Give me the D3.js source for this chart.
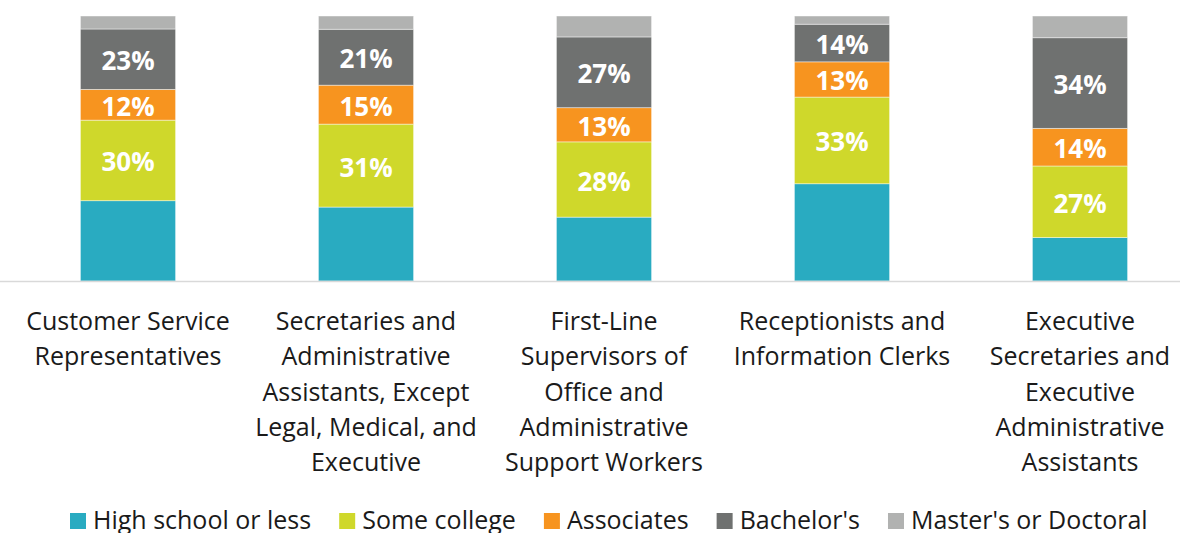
<!DOCTYPE html>
<html>
<head>
<meta charset="utf-8">
<script src="https://cdn.jsdelivr.net/npm/d3@7/dist/d3.min.js"></script>
<style>
  html, body { margin: 0; padding: 0; background: #fff; }
  svg { display: block; }
  text { font-family: "Open Sans", "Noto Sans", sans-serif; }
</style>
</head>
<body>
<svg id="chart" width="1180" height="533"></svg>
<script>
// ---- data ----
const categories = [
  "Customer Service Representatives",
  "Secretaries and Administrative Assistants, Except Legal, Medical, and Executive",
  "First-Line Supervisors of Office and Administrative Support Workers",
  "Receptionists and Information Clerks",
  "Executive Secretaries and Executive Administrative Assistants"
];
const categoryLines = [
  ["Customer Service", "Representatives"],
  ["Secretaries and", "Administrative", "Assistants, Except", "Legal, Medical, and", "Executive"],
  ["First-Line", "Supervisors of", "Office and", "Administrative", "Support Workers"],
  ["Receptionists and", "Information Clerks"],
  ["Executive", "Secretaries and", "Executive", "Administrative", "Assistants"]
];
const seriesNames = ["High school or less", "Some college", "Associates", "Bachelor's", "Master's or Doctoral"];
const highSchool = [30.3, 27.9, 24.1, 36.7, 16.4];
const someCollege = [30.4, 31.3, 28.4, 32.7, 27.0];
const associates = [11.6, 14.7, 12.9, 13.3, 14.2];
const bachelors = [22.8, 21.1, 26.7, 14.2, 34.2];
const masters = [4.9, 5.0, 7.9, 3.1, 8.2];
const labeledSeries = ["Some college", "Associates", "Bachelor's"];
const colors = ["#29abc1", "#cfd82b", "#f7941f", "#6f7170", "#b1b2b1"];

// ---- build table ----
const seriesValues = [highSchool, someCollege, associates, bachelors, masters];
const rows = categories.map((c, i) => {
  const r = { category: c };
  seriesNames.forEach((s, j) => r[s] = seriesValues[j][i]);
  return r;
});
const stacked = d3.stack().keys(seriesNames)(rows);

const svg = d3.select("#chart");
const W = 1180;

const x = d3.scaleBand().domain(categories).range([9, 1199]).paddingInner(0.6).paddingOuter(0.3);
const y = d3.scaleLinear().domain([0, 100]).range([281, 16]);
const color = d3.scaleOrdinal().domain(seriesNames).range(colors);

// bars
const layers = svg.append("g").selectAll("g").data(stacked).join("g")
  .attr("fill", d => color(d.key));
layers.selectAll("rect").data(d => d.map(p => ({ p, key: d.key })))
  .join("rect")
  .attr("x", d => x(d.p.data.category))
  .attr("width", x.bandwidth())
  .attr("y", d => y(d.p[1]))
  .attr("height", d => y(d.p[0]) - y(d.p[1]))
  .attr("stroke", "#ffffff")
  .attr("stroke-opacity", 0.55)
  .attr("stroke-width", 0.8);

// data labels
stacked.filter(s => labeledSeries.includes(s.key)).forEach(s => {
  svg.append("g").selectAll("text").data(s).join("text")
    .attr("x", d => x(d.data.category) + x.bandwidth() / 2)
    .attr("y", d => (y(d[0]) + y(d[1])) / 2 + 11)
    .attr("text-anchor", "middle")
    .attr("fill", "#ffffff")
    .attr("font-weight", 700)
    .attr("font-size", 26)
    .text(d => Math.round(d[1] - d[0]) + "%");
});

// baseline axis
const axis = d3.axisBottom(x).tickSize(0).tickFormat("");
const gAxis = svg.append("g").attr("transform", "translate(0,281.5)").call(axis);
gAxis.select(".domain").remove();
svg.append("line").attr("x1", 0).attr("x2", W).attr("y1", 281.5).attr("y2", 281.5)
  .attr("stroke", "#d9d9d9").attr("stroke-width", 1.6);

// category labels
const lab = svg.append("g").selectAll("text").data(categories).join("text")
  .attr("text-anchor", "middle")
  .attr("font-size", 25)
  .attr("fill", "#1a1a1a");
lab.each(function (c, i) {
  const t = d3.select(this);
  categoryLines[i].forEach((ln, k) => {
    t.append("tspan")
      .attr("x", x(c) + x.bandwidth() / 2)
      .attr("y", 330 + k * 35.3)
      .text(ln);
  });
});

// legend
const legend = svg.append("g");
let lx = 70;
seriesNames.forEach((s, i) => {
  legend.append("rect").attr("x", lx).attr("y", 513).attr("width", 16).attr("height", 16)
    .attr("fill", color(s));
  const t = legend.append("text").attr("x", lx + 23).attr("y", 529)
    .attr("font-size", 25).attr("fill", "#1a1a1a").text(s);
  lx += 23 + t.node().getComputedTextLength() + 28;
});
</script>
</body>
</html>
